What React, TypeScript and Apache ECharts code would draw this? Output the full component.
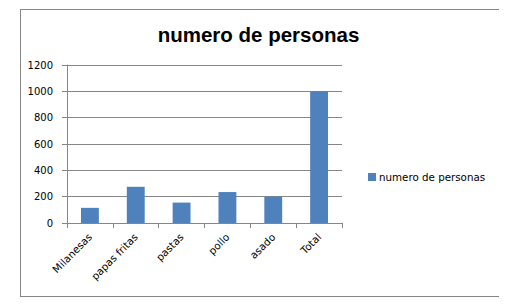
import React, { useEffect, useRef } from "react";
import * as echarts from "echarts";

const titleText = "numero de personas";
const seriesName = "numero de personas";
const categories = ["Milanesas", "papas fritas", "pastas", "pollo", "asado", "Total"];
const values = [115, 275, 155, 235, 200, 1000];
const yTicks = { min: 0, max: 1200, interval: 200 };

export default function App() {
  const ref = useRef<HTMLDivElement>(null);
  useEffect(() => {
    document.body.style.margin = "0";
    const chart = echarts.init(ref.current!, undefined, { renderer: "svg" });
    const axisGray = "#868686";
    chart.setOption({
      animation: false,
      backgroundColor: "#ffffff",
      title: {
        text: titleText,
        left: "center",
        top: 19,
        textStyle: {
          fontFamily: "Liberation Sans",
          fontWeight: "bold",
          fontSize: 20.5,
          color: "#000000",
        },
      },
      legend: {
        data: [seriesName],
        left: 363,
        top: 167,
        orient: "vertical",
        itemWidth: 8,
        itemHeight: 8,
        itemGap: 4,
        icon: "rect",
        textStyle: {
          fontFamily: "DejaVu Sans",
          fontSize: 10.3,
          color: "#000000",
          padding: [0, 0, 0, -2],
        },
      },
      grid: { left: 67, right: 175, top: 65, bottom: 83, containLabel: false },
      xAxis: {
        type: "category",
        data: categories,
        boundaryGap: true,
        axisLine: { lineStyle: { color: axisGray, width: 1 } },
        axisTick: { show: true, length: 5, lineStyle: { color: axisGray }, alignWithLabel: false },
        axisLabel: {
          rotate: 45,
          margin: 12,
          interval: 0,
          fontFamily: "DejaVu Sans",
          fontSize: 10.3,
          color: "#000000",
        },
      },
      yAxis: {
        type: "value",
        min: yTicks.min,
        max: yTicks.max,
        interval: yTicks.interval,
        axisLine: { show: true, lineStyle: { color: axisGray, width: 1 } },
        axisTick: { show: true, length: 5, lineStyle: { color: axisGray } },
        splitLine: { show: true, lineStyle: { color: axisGray, width: 1 } },
        axisLabel: {
          margin: 14,
          fontFamily: "DejaVu Sans",
          fontSize: 10,
          color: "#000000",
          formatter: (v: number) => String(v),
        },
      },
      series: [
        {
          name: seriesName,
          type: "bar",
          data: values,
          barWidth: "39%",
          itemStyle: { color: "#4F81BD" },
        },
      ],
      graphic: [
        { type: "line", shape: { x1: 20.5, y1: 10, x2: 20.5, y2: 297 }, style: { stroke: axisGray, lineWidth: 1 } },
        { type: "line", shape: { x1: 20, y1: 9.5, x2: 499, y2: 9.5 }, style: { stroke: axisGray, lineWidth: 1 } },
        { type: "line", shape: { x1: 20, y1: 296.5, x2: 499, y2: 296.5 }, style: { stroke: axisGray, lineWidth: 1 } },
      ],
    });
    return () => chart.dispose();
  }, []);
  return <div ref={ref} style={{ width: 517, height: 306 }} />;
}
